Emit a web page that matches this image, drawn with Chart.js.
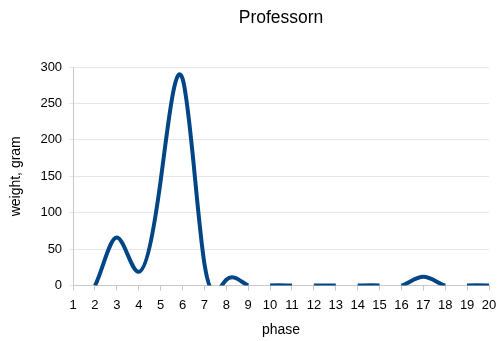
<!DOCTYPE html>
<html lang="sv">
<head>
<meta charset="UTF-8">
<title>Professorn</title>
<script src="https://cdn.jsdelivr.net/npm/chart.js"></script>
<style>
  html, body { margin: 0; padding: 0; background: #fff; }
  #wrap { width: 497px; height: 341px; }
</style>
</head>
<body>
<div id="wrap"><canvas id="grafico"></canvas></div>
<script>
var fases = ["1", "2", "3", "4", "5", "6", "7", "8", "9", "10",
             "11", "12", "13", "14", "15", "16", "17", "18", "19", "20"];
var vikter = [0, 0, 66, 19, 144, 284, 30, 8, 0, 0,
              0, 0, 0, 0, 0, 0, 12, 0, 0, 0];
var yTicks = [0, 50, 100, 150, 200, 250, 300];

var typsnitt = 'Liberation Sans, Arial, sans-serif';

// naturlig kubisk spline (som i kalkylprogrammet), jämnt avstånd mellan punkterna
function andraDerivator(ys) {
    var n = ys.length;
    var m = new Array(n).fill(0);
    var c = new Array(n).fill(0);
    var d = new Array(n).fill(0);
    for (var i = 1; i < n - 1; i++) {
        var r = 6 * (ys[i + 1] - 2 * ys[i] + ys[i - 1]);
        var den = 4 - c[i - 1];
        c[i] = 1 / den;
        d[i] = (r - d[i - 1]) / den;
    }
    for (var j = n - 2; j >= 1; j--) {
        m[j] = d[j] - c[j] * m[j + 1];
    }
    return m;
}

var mVikter = andraDerivator(vikter);

// delar av kurvan som ligger helt under 0 ritas inte
function underAxeln(i) {
    for (var k = 0; k <= 4; k++) {
        var t = k / 4, s = 1 - t;
        var v = s * vikter[i] + t * vikter[i + 1] +
            (s * s * s - s) * mVikter[i] / 6 + (t * t * t - t) * mVikter[i + 1] / 6;
        if (v > 0) return false;
    }
    return true;
}

var splinePlugin = {
    id: 'naturligSpline',
    beforeDatasetDraw: function (chart, args) {
        var line = args.meta.dataset;
        var pts = args.meta.data;
        var n = pts.length;
        line.updateControlPoints(chart.chartArea, 'x');
        var ys = pts.map(function (p) { return p.y; });
        var m = andraDerivator(ys);
        for (var i = 0; i < n; i++) {
            var dy, dx;
            if (i < n - 1) {
                dy = ys[i + 1] - ys[i] - (2 * m[i] + m[i + 1]) / 6;
                dx = pts[i + 1].x - pts[i].x;
            } else {
                dy = ys[i] - ys[i - 1] + (m[i - 1] + 2 * m[i]) / 6;
                dx = pts[i].x - pts[i - 1].x;
            }
            pts[i].cp1x = pts[i].x - dx / 3;
            pts[i].cp1y = pts[i].y - dy / 3;
            pts[i].cp2x = pts[i].x + dx / 3;
            pts[i].cp2y = pts[i].y + dy / 3;
        }
    }
};

new Chart(document.getElementById('grafico'), {
    type: 'line',
    data: {
        labels: fases,
        datasets: [{
            data: vikter,
            borderColor: '#004586',
            borderWidth: 4,
            pointRadius: 0,
            tension: 0.4,
            capBezierPoints: false,
            fill: false,
            segment: {
                borderColor: function (ctx) {
                    return underAxeln(ctx.p0DataIndex) ? 'rgba(0,0,0,0)' : undefined;
                }
            }
        }]
    },
    options: {
        responsive: true,
        maintainAspectRatio: false,
        animation: false,
        layout: { padding: { left: 2, right: 0, top: 0, bottom: 0 } },
        plugins: {
            legend: { display: false },
            tooltip: { enabled: false },
            title: {
                display: true,
                text: 'Professorn',
                color: '#000',
                fullSize: false,
                font: { family: typsnitt, size: 17.5, weight: 'normal' },
                padding: { top: 8, bottom: 38 }
            }
        },
        scales: {
            x: {
                offset: false,
                afterFit: function (scale) {
                    // sista etiketten får gå ända ut till kanten
                    scale.paddingRight = 8;
                },
                grid: { drawOnChartArea: false, tickLength: 5, color: '#c8c8c8' },
                border: { color: '#c8c8c8' },
                ticks: {
                    color: '#000', padding: 7, maxRotation: 0, autoSkip: false,
                    font: { family: typsnitt, size: 13 }
                },
                title: {
                    display: true, text: 'phase', color: '#000',
                    font: { family: typsnitt, size: 14 },
                    padding: { top: 2, bottom: 2 }
                }
            },
            y: {
                min: yTicks[0],
                max: yTicks[yTicks.length - 1],
                grid: { color: '#e6e6e6', tickLength: 4 },
                border: { color: '#c8c8c8' },
                ticks: {
                    stepSize: yTicks[1] - yTicks[0], color: '#000', padding: 7,
                    font: { family: typsnitt, size: 13 }
                },
                title: {
                    display: true, text: 'weight, gram', color: '#000',
                    font: { family: typsnitt, size: 14 },
                    padding: { top: 5.6, bottom: 9 }
                }
            }
        }
    },
    plugins: [splinePlugin]
});
</script>
</body>
</html>
